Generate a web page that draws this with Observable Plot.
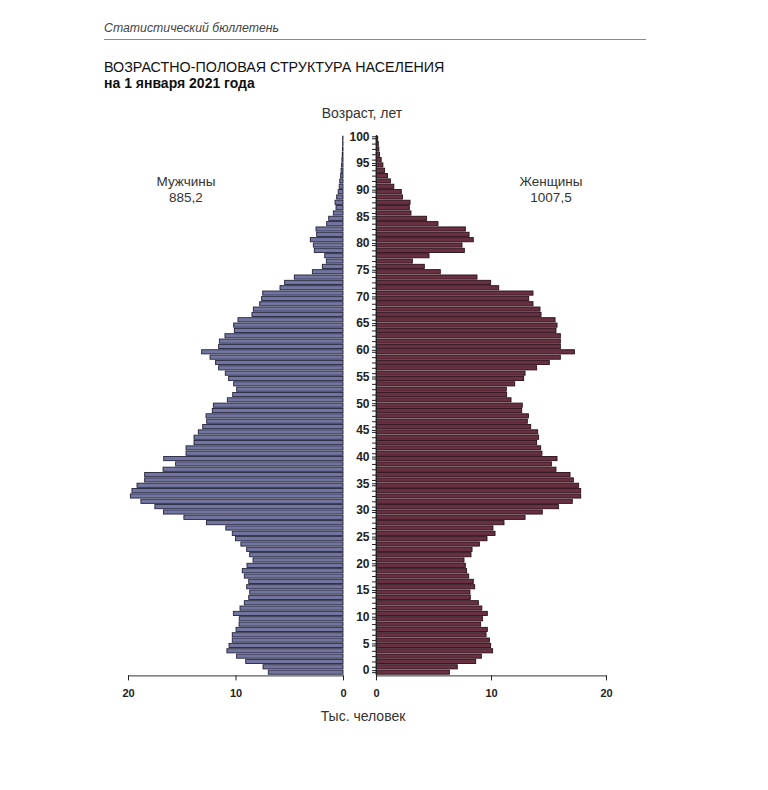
<!DOCTYPE html>
<html><head><meta charset="utf-8">
<script src="https://cdn.jsdelivr.net/npm/d3@7"></script>
<script src="https://cdn.jsdelivr.net/npm/@observablehq/plot@0.6"></script>
<style>
body{margin:0;background:#fff;font-family:"Liberation Sans",Arial,sans-serif;}
#page{position:relative;width:768px;height:790px;overflow:hidden;}
.abs{position:absolute;white-space:nowrap;}
.c{text-align:center;}
</style></head><body><div id="page">
<div class="abs" style="left:104px;top:21px;font-style:italic;font-size:12.3px;color:#444">Статистический бюллетень</div>
<div class="abs" style="left:104px;top:39px;width:542px;height:0;border-top:1.5px solid #8a8a8a"></div>
<div class="abs" style="left:104px;top:59px;font-size:14.3px;color:#111">ВОЗРАСТНО-ПОЛОВАЯ СТРУКТУРА НАСЕЛЕНИЯ</div>
<div class="abs" style="left:104px;top:75px;font-size:14px;font-weight:bold;color:#111">на 1 января 2021 года</div>
<div class="abs c" style="left:292px;top:105px;width:140px;font-size:14px;color:#333">Возраст, лет</div>
<div class="abs c" style="left:126px;top:174px;width:120px;font-size:13.5px;line-height:16px;color:#333">Мужчины<br>885,2</div>
<div class="abs c" style="left:491px;top:174px;width:120px;font-size:13.5px;line-height:16px;color:#333">Женщины<br>1007,5</div>
<div class="abs c" style="left:293px;top:708px;width:140px;font-size:14px;color:#333">Тыс. человек</div>
<div id="left" class="abs" style="left:0;top:100px"></div>
<div id="right" class="abs" style="left:330px;top:100px"></div>
</div>
<script>
const ages = d3.range(0, 101);
const male = [
 6.95, 7.44, 9.05, 9.9, 10.8, 10.6, 10.3, 10.3, 9.95, 9.67,
 9.65, 10.2, 9.58, 9.18, 8.77, 8.68, 8.96, 8.77, 9.18, 9.37,
 8.93, 8.37, 8.68, 8.96, 9.5, 10.0, 10.3, 10.9, 12.7, 14.8,
 16.7, 17.5, 18.8, 19.78, 19.63, 19.16, 18.45, 18.45, 16.74, 15.57,
 16.68, 14.6, 14.6, 13.86, 13.86, 13.46, 13.05, 12.68, 12.74, 12.16,
 12.06, 10.76, 10.26, 9.89, 10.17, 10.64, 10.95, 11.57, 11.85, 12.37,
 13.15, 11.57, 11.5, 10.98, 10.11, 10.17, 9.77, 8.47, 8.34, 7.75,
 7.57, 7.47, 5.86, 5.43, 4.53, 2.85, 1.92, 1.55, 1.7, 2.67,
 2.76, 3.04, 2.45, 2.51, 1.52, 1.33, 0.9, 0.65, 0.74, 0.59,
 0.45, 0.35, 0.3, 0.22, 0.18, 0.13, 0.1, 0.07, 0.05, 0.03, 0.03
];
const female = [
 6.38, 7.07, 8.67, 9.16, 10.14, 9.97, 9.86, 9.57, 9.68, 9.1,
 9.27, 9.68, 9.2, 8.9, 8.2, 8.17, 8.58, 8.46, 8.06, 7.88,
 7.77, 7.65, 8.26, 8.35, 8.99, 9.65, 10.35, 10.17, 11.13, 12.96,
 14.46, 15.86, 17.07, 17.8, 17.8, 17.62, 17.16, 16.87, 15.65, 15.25,
 15.74, 14.43, 14.32, 13.97, 14.14, 14.06, 13.45, 13.16, 13.25, 12.67,
 12.72, 11.74, 11.36, 11.33, 12.06, 12.84, 12.96, 13.97, 15.07, 16.03,
 17.25, 16.03, 16.03, 16.03, 15.65, 15.74, 15.57, 14.35, 14.26, 13.65,
 13.28, 13.65, 10.67, 9.97, 8.78, 5.59, 4.2, 3.16, 4.61, 7.68,
 7.48, 8.46, 8.09, 7.77, 5.39, 4.4, 3.04, 2.9, 2.96, 2.3,
 2.2, 1.55, 1.25, 1.0, 0.75, 0.6, 0.45, 0.3, 0.25, 0.2, 0.15
];
const xTicks = [0, 10, 20];
const ageLabels = ages.filter(a => a % 5 === 0);

const maleData = ages.map((a, i) => ({age: a, v: male[i]}));
const femaleData = ages.map((a, i) => ({age: a, v: female[i]}));
const yDomain = ages.slice().reverse();
const common = {
  height: 640, marginTop: 35, marginBottom: 64.6,
  style: {fontFamily: "'Liberation Sans', Arial, sans-serif", color: "#222", background: "transparent", overflow: "visible"}
};

const leftPlot = Plot.plot({
  ...common,
  width: 360, marginLeft: 128, marginRight: 17,
  x: {domain: [0, 20], reverse: true},
  y: {type: "band", domain: yDomain, padding: 0.22, axis: null},
  marks: [
    Plot.barX(maleData, {x: "v", y: "age", fill: "#7275a0", stroke: "#23233a", strokeWidth: 0.9}),
    Plot.frame({anchor: "bottom", stroke: "#333"}),
    Plot.axisX({ticks: xTicks, tickSize: 5, tickPadding: 8, fontSize: 11, fontWeight: "bold", label: null})
  ]
});
document.getElementById("left").appendChild(leftPlot);

const rightPlot = Plot.plot({
  ...common,
  width: 320, marginLeft: 46, marginRight: 44,
  x: {domain: [0, 20]},
  y: {type: "band", domain: yDomain, padding: 0.22},
  marks: [
    Plot.barX(femaleData, {x: "v", y: "age", fill: "#683040", stroke: "#2a0e19", strokeWidth: 0.9}),
    Plot.frame({anchor: "bottom", stroke: "#333"}),
    Plot.frame({anchor: "left", stroke: "#222"}),
    Plot.axisY({ticks: ages, tickSize: 4, tickFormat: () => "", label: null, stroke: "#222"}),
    Plot.axisY({ticks: ageLabels, tickSize: 4, tickPadding: 3, dy: -2, fontSize: 12, fontWeight: "bold", label: null}),
    Plot.axisX({ticks: xTicks, tickSize: 5, tickPadding: 8, fontSize: 11, fontWeight: "bold", label: null})
  ]
});
document.getElementById("right").appendChild(rightPlot);
</script>
</body></html>
